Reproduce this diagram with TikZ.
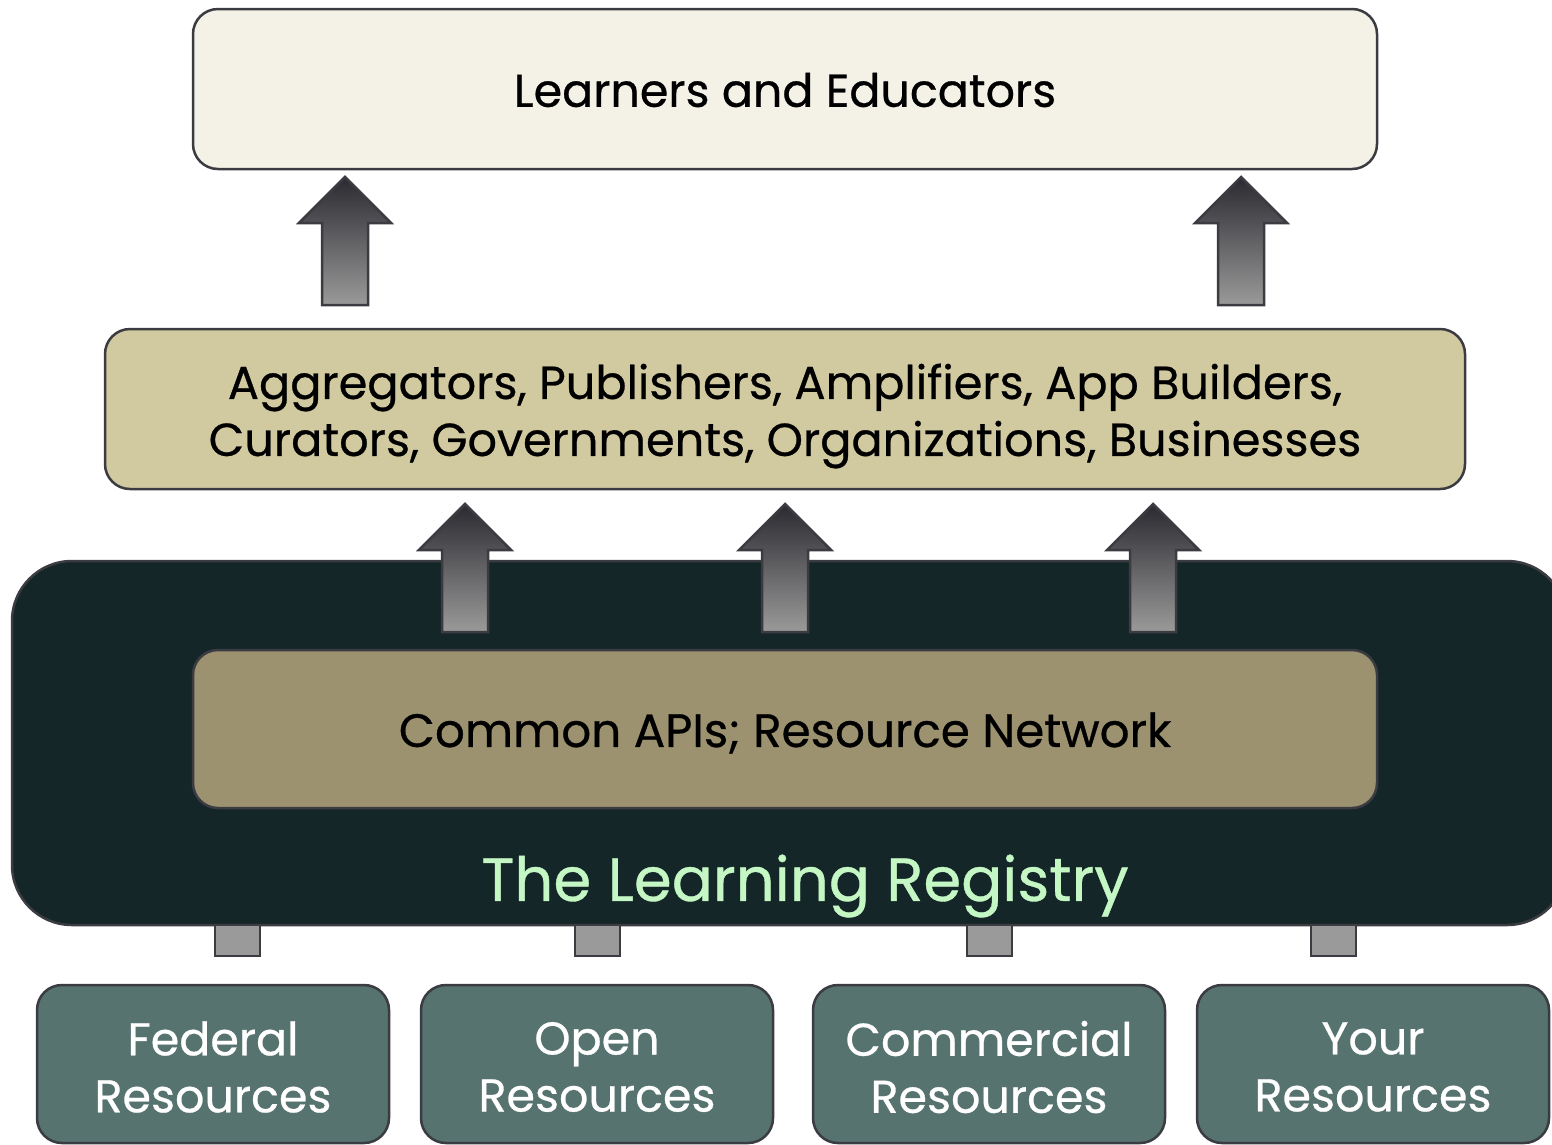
\documentclass[tikz,border=0pt]{standalone}
\usepackage{fontspec}
\setmainfont{Poppins}[FakeBold=0.6]
\definecolor{edge}{HTML}{3B3B42}
\definecolor{topfill}{HTML}{F4F2E7}
\definecolor{midfill}{HTML}{D1C9A0}
\definecolor{darkfill}{HTML}{142628}
\definecolor{innerfill}{HTML}{9C9270}
\definecolor{botfill}{HTML}{567370}
\definecolor{regtext}{HTML}{C5F7C5}
\definecolor{arrowtop}{HTML}{2A2A30}
\definecolor{arrowbot}{HTML}{9A9A9A}
\tikzset{
  box/.style={draw=edge, line width=2.5pt, rounded corners=25pt, align=center, inner sep=0pt},
  txt/.style={font=\fontsize{46}{57}\selectfont, align=center, inner sep=0pt},
  upblock/.style={draw=edge, line width=2.5pt, top color=arrowtop, bottom color=arrowbot},
  stub/.style={draw=edge, line width=2.5pt, fill=arrowbot, minimum width=45pt, minimum height=31pt, inner sep=0pt},
  resbox/.style={box, fill=botfill, minimum width=352pt, minimum height=158pt},
  restxt/.style={txt, text=white},
}
% #1 centre x, #2 tip y, #3 bottom y (pixels, y downward)
\newcommand\blockarrow[3]{%
  \shade[upblock] (#1,#2) -- (#1+46,#2+46) -- (#1+23,#2+46) -- (#1+23,#3) -- (#1-23,#3) -- (#1-23,#2+46) -- (#1-46,#2+46) -- cycle;}
\begin{document}
\begin{tikzpicture}[x=1pt,y=-1pt]
\useasboundingbox (0,0) rectangle (1552,1144);
% top box
\node[box, fill=topfill, minimum width=1184pt, minimum height=160pt] (learners) at (785,89) {};
\node[txt] (learnerst) at (785,90) {Learners and Educators};
% middle box
\node[box, fill=midfill, minimum width=1360pt, minimum height=160pt] (aggr) at (785,409) {};
\node[txt, font=\fontsize{46.2}{57}\selectfont] (aggrt) at (785,416) {Aggregators, Publishers, Amplifiers, App Builders,\\Curators, Governments, Organizations, Businesses};
% registry dark box (extends past right edge)
\begin{scope}
\clip (0,0) rectangle (1552,1144);
\draw[draw=edge, line width=2.5pt, fill=darkfill, rounded corners=60pt] (12,561) rectangle (1567,925);
\end{scope}
\node[box, fill=innerfill, minimum width=1184pt, minimum height=158pt] (api) at (785,729) {};
\node[txt, font=\fontsize{46.8}{57}\selectfont] (apit) at (785,733) {Common APIs; Resource Network};
\node[text=regtext, font=\fontsize{61}{70}\selectfont, inner sep=0pt] (reg) at (805,886) {The Learning Registry};
% arrows up
\blockarrow{345}{177}{305}
\blockarrow{1241}{177}{305}
\blockarrow{465}{504}{632}
\blockarrow{785}{504}{632}
\blockarrow{1153}{504}{632}
% stubs
\node[stub] (s1) at (237.5,940.5) {};
\node[stub] (s2) at (597.5,940.5) {};
\node[stub] (s3) at (989.5,940.5) {};
\node[stub] (s4) at (1333.5,940.5) {};
% bottom boxes
\node[resbox] (fed) at (213,1064) {};
\node[resbox] (open) at (597,1064) {};
\node[resbox] (comm) at (989,1064) {};
\node[resbox] (your) at (1373,1064) {};
\node[restxt] (fedt) at (213,1067) {Federal\\Resources};
\node[restxt] (opent) at (597,1067) {Open\\Resources};
\node[restxt] (commt) at (989,1067) {Commercial\\Resources};
\node[restxt] (yourt) at (1373,1067) {Your\\Resources};
\end{tikzpicture}
\end{document}
